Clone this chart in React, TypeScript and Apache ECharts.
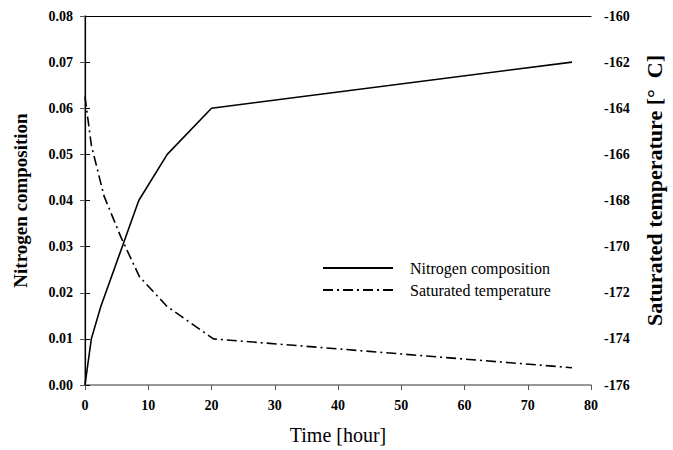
import React, { useEffect, useRef } from "react";
import * as echarts from "echarts";

const nitrogenTime = [0, 1, 2.5, 8.5, 13, 20, 77];
const nitrogenValues = [0, 0.01, 0.017, 0.04, 0.05, 0.06, 0.07];
const tempTime = [0, 1, 3, 5.7, 8.6, 13, 20.3, 77];
const tempValues = [-163.5, -165.6, -167.8, -169.6, -171.3, -172.6, -174.0, -175.25];
const seriesNames = ["Nitrogen composition", "Saturated temperature"];

const FONT = "Liberation Serif";

export default function App() {
  const ref = useRef<HTMLDivElement>(null);
  useEffect(() => {
    const chart = echarts.init(ref.current!, undefined, { renderer: "svg" });
    const tickLabel = { fontFamily: FONT, fontWeight: "bold", fontSize: 14, color: "#000" };
    chart.setOption({
      animation: false,
      backgroundColor: "#fff",
      grid: { left: 85, right: 73, top: 16, bottom: 65, containLabel: false },
      legend: {
        left: 322,
        top: 260,
        padding: 0,
        orient: "vertical",
        itemWidth: 70,
        itemHeight: 14,
        itemGap: 6,
        itemStyle: { opacity: 0 },
        textStyle: { fontFamily: FONT, fontSize: 16, color: "#000", padding: [0, 0, 0, 12] },
        data: seriesNames,
      },
      xAxis: [
        {
          type: "value",
          min: 0,
          max: 80,
          interval: 10,
          name: "Time [hour]",
          nameLocation: "middle",
          nameGap: 40,
          nameTextStyle: { fontFamily: FONT, fontSize: 20, color: "#000" },
          axisLine: { lineStyle: { color: "#777", width: 1.5 } },
          axisTick: { inside: false, length: 5, lineStyle: { color: "#555" } },
          axisLabel: { ...tickLabel, margin: 13 },
          splitLine: { show: false },
        },
        {
          type: "value",
          position: "top",
          min: 0,
          max: 80,
          axisLine: { show: true, lineStyle: { color: "#000", width: 1.2 } },
          axisTick: { show: false },
          axisLabel: { show: false },
          splitLine: { show: false },
        },
      ],
      yAxis: [
        {
          type: "value",
          min: 0,
          max: 0.08,
          interval: 0.01,
          position: "left",
          name: "Nitrogen composition",
          nameLocation: "middle",
          nameRotate: 90,
          nameGap: 55,
          nameTextStyle: { fontFamily: FONT, fontWeight: "bold", fontSize: 19, color: "#000" },
          axisLine: { show: true, lineStyle: { color: "#777", width: 1.5 } },
          axisTick: { show: true, inside: false, length: 5, lineStyle: { color: "#555" } },
          axisLabel: { ...tickLabel, margin: 12, formatter: (v: number) => v.toFixed(2) },
          splitLine: { show: false },
        },
        {
          type: "value",
          min: -176,
          max: -160,
          interval: 2,
          position: "right",
          name: "Saturated temperature [°\u00a0\u00a0C]",
          nameLocation: "middle",
          nameRotate: 90,
          nameGap: 52,
          nameTextStyle: {
            fontFamily: FONT,
            fontWeight: "bold",
            fontSize: 22,
            color: "#000",
            padding: [0, 0, 0, 20],
          },
          axisLine: { show: true, lineStyle: { color: "#000", width: 1.2 } },
          axisTick: { show: true, inside: false, length: 5, lineStyle: { color: "#000" } },
          axisLabel: { ...tickLabel, margin: 13 },
          splitLine: { show: false },
        },
      ],
      series: [
        {
          name: seriesNames[0],
          type: "line",
          xAxisIndex: 0,
          yAxisIndex: 0,
          symbol: "none",
          data: nitrogenTime.map((t, i) => [t, nitrogenValues[i]]),
          lineStyle: { color: "#000", width: 1.6, type: "solid" },
          itemStyle: { color: "#000" },
        },
        {
          name: seriesNames[1],
          type: "line",
          xAxisIndex: 0,
          yAxisIndex: 1,
          symbol: "none",
          data: tempTime.map((t, i) => [t, tempValues[i]]),
          lineStyle: { color: "#000", width: 1.6, type: [10, 4, 2, 4] },
          itemStyle: { color: "#000" },
        },
      ],
    });
    return () => chart.dispose();
  }, []);
  return <div ref={ref} style={{ width: 673, height: 450, position: "absolute", left: 0, top: 0 }} />;
}
